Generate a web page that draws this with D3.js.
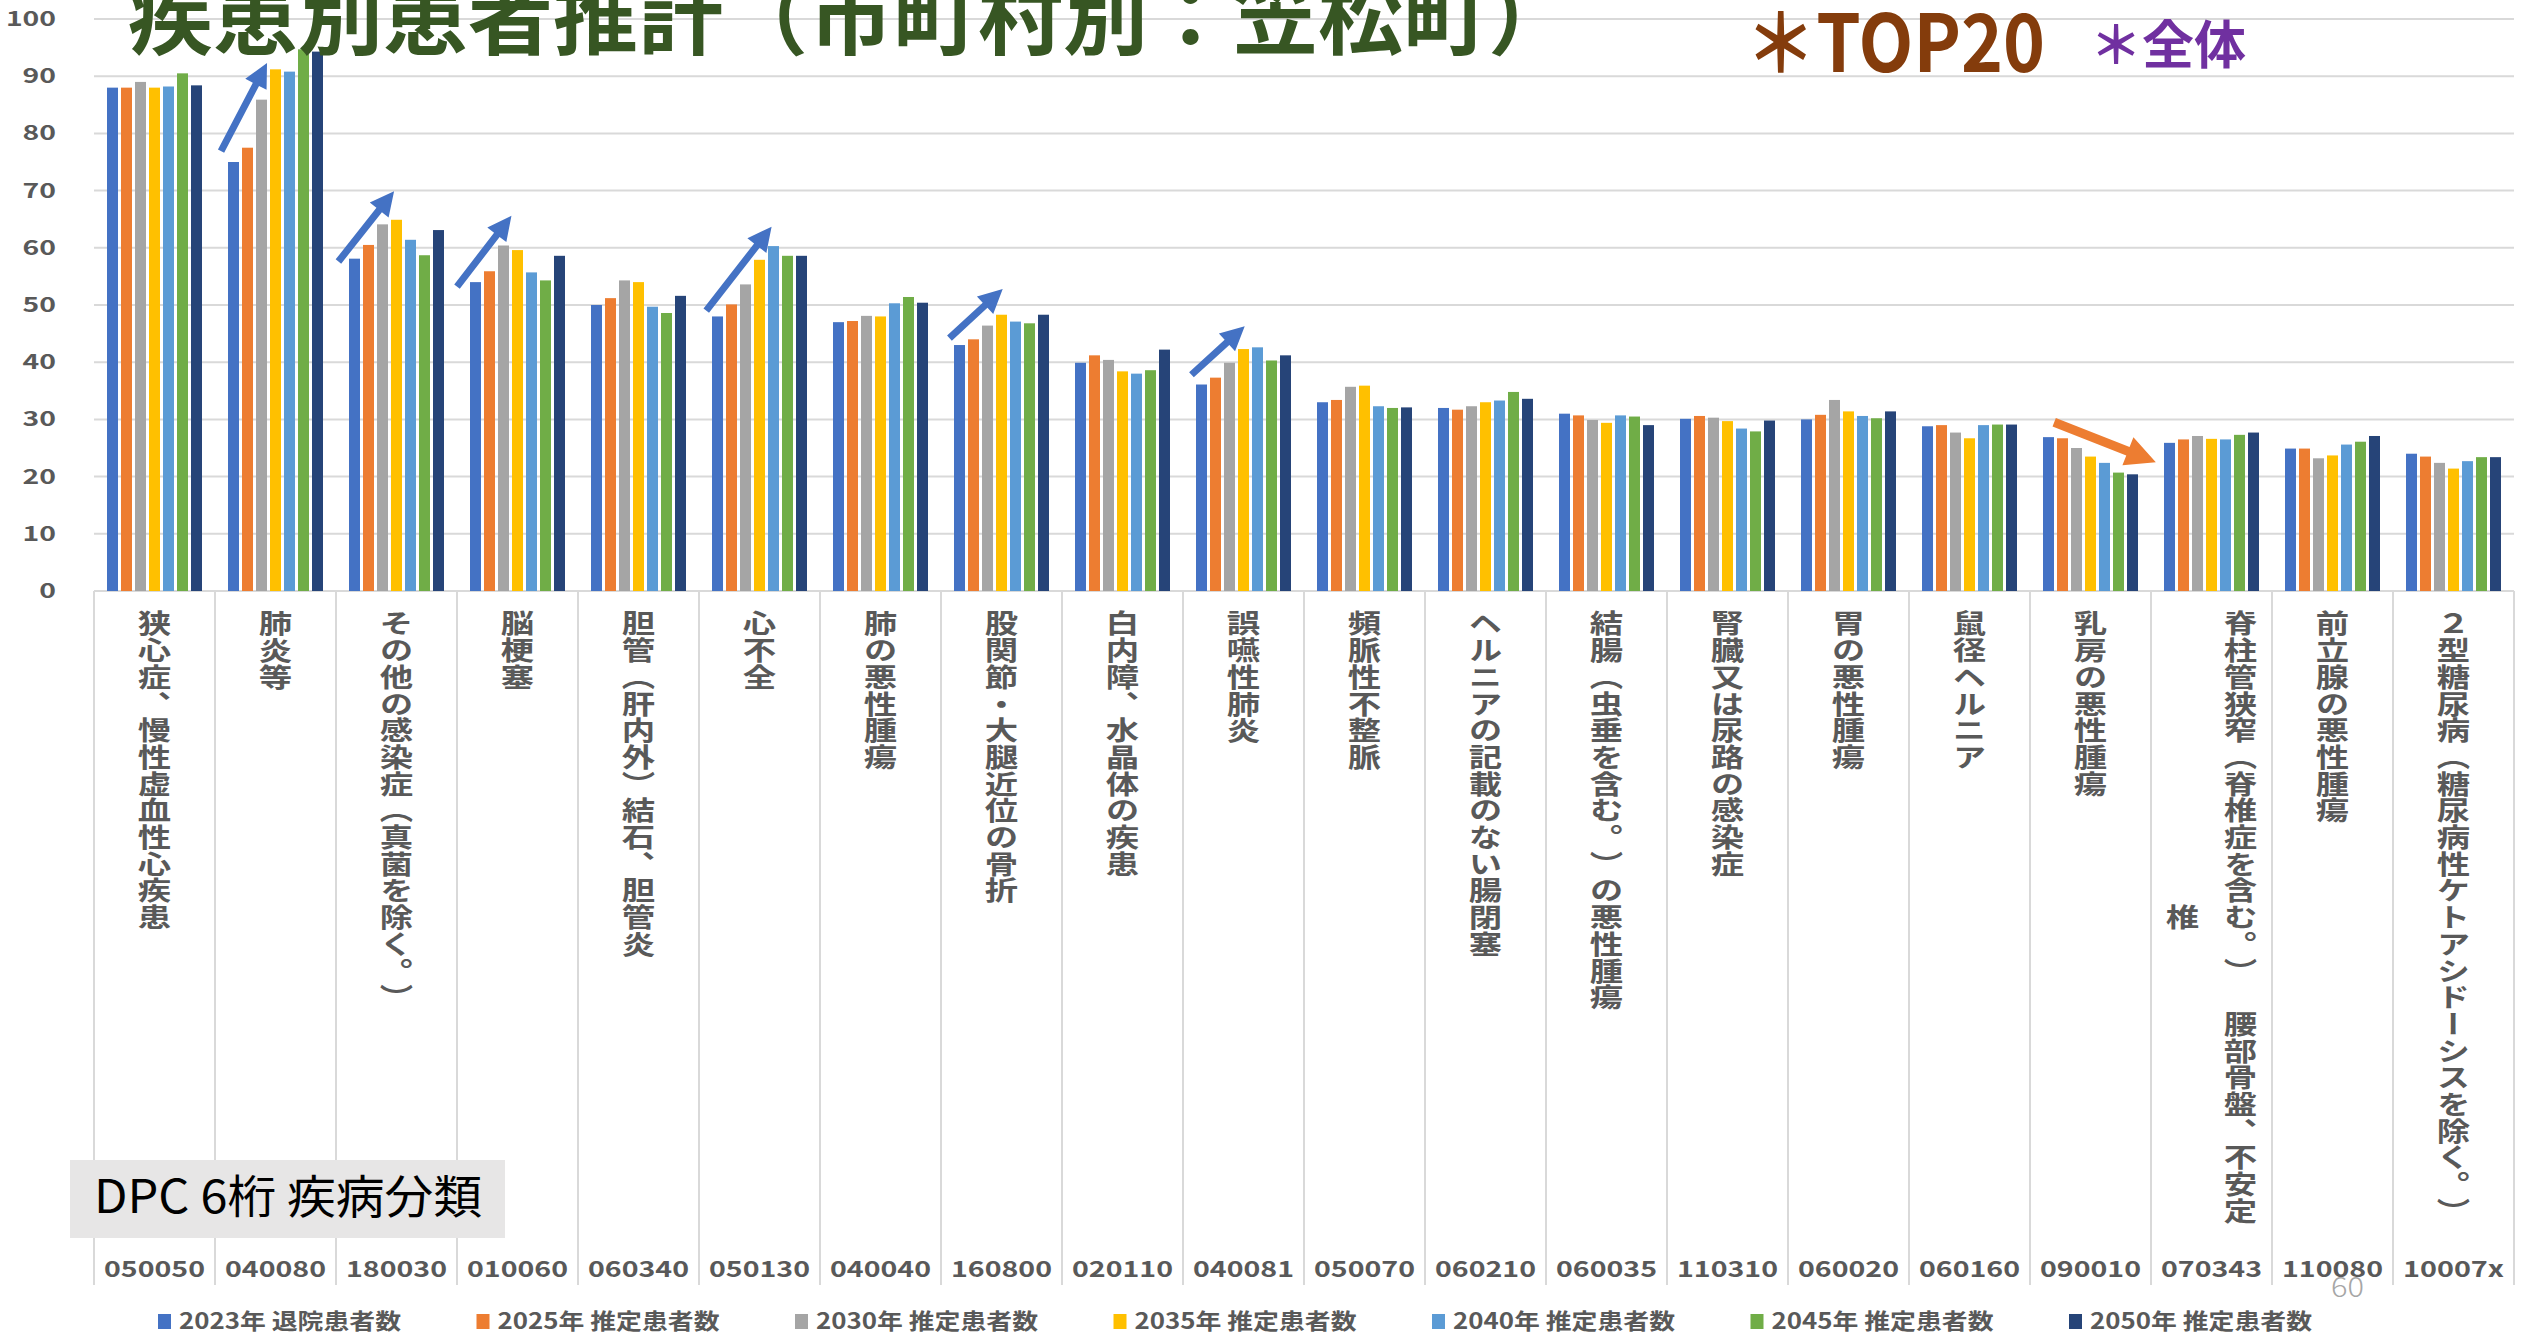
<!DOCTYPE html>
<html>
<head>
<meta charset="utf-8">
<script src="https://cdn.jsdelivr.net/npm/d3@7"></script>
<style>
  html, body { margin: 0; padding: 0; background: #fff; }
  svg { display: block; }
  text { font-family: "Noto Sans CJK JP", "Noto Sans", sans-serif; text-spacing-trim: space-all; }
</style>
</head>
<body>
<svg id="chart" width="2526" height="1334"></svg>
<script>
// ---- data ----
const categoryCodes = ["050050","040080","180030","010060","060340","050130","040040","160800","020110","040081",
                       "050070","060210","060035","110310","060020","060160","090010","070343","110080","10007x"];
const categoryNames = [
  "狭心症、慢性虚血性心疾患",
  "肺炎等",
  "その他の感染症（真菌を除く。）",
  "脳梗塞",
  "胆管（肝内外）結石、胆管炎",
  "心不全",
  "肺の悪性腫瘍",
  "股関節・大腿近位の骨折",
  "白内障、水晶体の疾患",
  "誤嚥性肺炎",
  "頻脈性不整脈",
  "ヘルニアの記載のない腸閉塞",
  "結腸（虫垂を含む。）の悪性腫瘍",
  "腎臓又は尿路の感染症",
  "胃の悪性腫瘍",
  "鼠径ヘルニア",
  "乳房の悪性腫瘍",
  "脊柱管狭窄（脊椎症を含む。）　腰部骨盤、不安定椎",
  "前立腺の悪性腫瘍",
  "２型糖尿病（糖尿病性ケトアシドーシスを除く。）"
];
const seriesNames = ["2023年 退院患者数","2025年 推定患者数","2030年 推定患者数","2035年 推定患者数",
                     "2040年 推定患者数","2045年 推定患者数","2050年 推定患者数"];
const patients2023 = [88.0,75.0,58.1,54.0,50.0,48.0,47.0,43.0,39.9,36.1,33.0,32.0,31.0,30.1,30.0,28.8,26.9,25.9,24.9,24.0];
const patients2025 = [88.0,77.5,60.5,55.9,51.2,50.1,47.2,44.0,41.2,37.3,33.4,31.7,30.7,30.6,30.8,29.0,26.7,26.5,24.9,23.5];
const patients2030 = [89.0,85.9,64.1,60.4,54.3,53.6,48.1,46.4,40.4,39.9,35.7,32.3,29.9,30.3,33.4,27.7,25.0,27.1,23.2,22.4];
const patients2035 = [88.0,91.2,64.9,59.6,54.0,57.9,48.0,48.3,38.4,42.3,35.9,33.0,29.4,29.7,31.4,26.7,23.5,26.6,23.7,21.4];
const patients2040 = [88.2,90.8,61.4,55.7,49.7,60.3,50.3,47.1,38.0,42.6,32.3,33.3,30.7,28.4,30.6,29.0,22.4,26.5,25.6,22.7];
const patients2045 = [90.5,94.7,58.7,54.3,48.6,58.6,51.4,46.8,38.6,40.3,32.0,34.8,30.5,27.9,30.2,29.1,20.7,27.3,26.1,23.4];
const patients2050 = [88.4,94.3,63.1,58.6,51.6,58.6,50.4,48.3,42.2,41.2,32.1,33.6,29.0,29.8,31.4,29.1,20.4,27.7,27.1,23.4];
const yTickValues = [0,10,20,30,40,50,60,70,80,90,100];

// trend annotations: [category, position inside the category (0..1), value]
const trendArrows = [
  { code: "040080", from: [0.05, 76.9], to: [0.43, 92.3], kind: "up" },
  { code: "180030", from: [0.02, 57.6], to: [0.48, 69.9], kind: "up" },
  { code: "010060", from: [0.00, 53.2], to: [0.45, 65.6], kind: "up" },
  { code: "050130", from: [0.06, 49.0], to: [0.60, 63.7], kind: "up" },
  { code: "160800", from: [0.07, 44.2], to: [0.51, 52.8], kind: "up" },
  { code: "040081", from: [0.07, 37.8], to: [0.51, 46.3], kind: "up" },
  { code: "090010", from: [0.20, 29.5], to: [1.04, 22.5], kind: "down" }
];

// ---- styles ----
const seriesColors = ["#4472C4","#ED7D31","#A5A5A5","#FFC000","#5B9BD5","#70AD47","#264478"];
const gridColor = "#D9D9D9";
const axisTextColor = "#595959";
const textStretch = 1.25;

const seriesValues = [patients2023, patients2025, patients2030, patients2035, patients2040, patients2045, patients2050];

const svg = d3.select("#chart");

// ---- scales ----
const plotLeft = 94, plotRight = 2514, plotTop = 19, plotBottom = 591;
const x = d3.scaleBand().domain(categoryCodes).range([plotLeft, plotRight]).padding(0);
const xSeries = d3.scaleBand().domain(d3.range(seriesNames.length)).range([11.5, 109.5]).padding(0);
const y = d3.scaleLinear().domain([0, 100]).range([plotBottom, plotTop]);

// ---- gridlines ----
svg.append("g").selectAll("line").data(yTickValues).join("line")
  .attr("x1", plotLeft).attr("x2", plotRight)
  .attr("y1", d => y(d)).attr("y2", d => y(d))
  .attr("stroke", gridColor).attr("stroke-width", 2);

// category separators (run through both label levels)
const sepX = categoryCodes.map(c => x(c)).concat([x(categoryCodes[categoryCodes.length - 1]) + x.bandwidth()]);
svg.append("g").selectAll("line").data(sepX).join("line")
  .attr("x1", d => d).attr("x2", d => d)
  .attr("y1", plotBottom).attr("y2", 1285)
  .attr("stroke", gridColor).attr("stroke-width", 2);

// ---- y tick labels ----
const tickFont = 20, tickPitch = 16.7, tickRight = 56;
svg.append("g").selectAll("text").data(yTickValues).join("text")
  .attr("x", d => tickRight - String(d).length * tickPitch)
  .attr("y", d => y(d) + 7)
  .attr("font-size", tickFont).attr("font-weight", 700).attr("fill", axisTextColor)
  .attr("textLength", d => String(d).length * tickPitch)
  .attr("lengthAdjust", "spacingAndGlyphs")
  .text(d => d);

// ---- bars ----
const barGap = 3;
const barData = [];
seriesValues.forEach((vals, s) => vals.forEach((v, i) => barData.push({ s, code: categoryCodes[i], v })));
svg.append("g").selectAll("rect").data(barData).join("rect")
  .attr("x", d => x(d.code) + xSeries(d.s) + barGap / 2)
  .attr("width", xSeries.bandwidth() - barGap)
  .attr("y", d => y(d.v))
  .attr("height", d => y(0) - y(d.v))
  .attr("fill", d => seriesColors[d.s]);

// ---- category names (vertical text) ----
const labelFont = 26.7, labelTop = 610, maxChars = 23, colGap = 58 / textStretch;
const labelG = svg.append("g");
categoryNames.forEach((name, i) => {
  const chars = Array.from(name);
  const cols = [];
  for (let k = 0; k < chars.length; k += maxChars) cols.push(chars.slice(k, k + maxChars).join(""));
  const blockLen = d3.max(cols, c => Array.from(c).length) * labelFont;
  const cx = x(categoryCodes[i]) + x.bandwidth() / 2;
  const g = labelG.append("g").attr("transform", `translate(${cx},${labelTop}) scale(${textStretch},1)`);
  cols.forEach((c, j) => {
    const off = ((cols.length - 1) / 2 - j) * colGap;
    const top = (blockLen - Array.from(c).length * labelFont) / 2;
    g.append("text")
      .attr("x", off).attr("y", top)
      .style("writing-mode", "vertical-rl")
      .style("text-spacing-trim", "space-all")
      .attr("font-size", labelFont).attr("font-weight", 700).attr("fill", axisTextColor)
      .text(c);
  });
});

// ---- category codes ----
const codeFont = 22, codeLen = 101;
svg.append("g").selectAll("text").data(categoryCodes).join("text")
  .attr("x", d => x(d) + x.bandwidth() / 2 - codeLen / 2)
  .attr("y", 1277)
  .attr("font-size", codeFont).attr("font-weight", 700).attr("fill", axisTextColor)
  .attr("textLength", codeLen).attr("lengthAdjust", "spacingAndGlyphs")
  .text(d => d);

// ---- trend arrows ----
function arrowPath(x0, y0, x1, y1, w, L, h) {
  const dx = x1 - x0, dy = y1 - y0, len = Math.hypot(dx, dy);
  const ux = dx / len, uy = dy / len, px = -uy, py = ux;
  const bx = x1 - ux * L, by = y1 - uy * L;
  const pts = [
    [x0 + px * w / 2, y0 + py * w / 2],
    [bx + px * w / 2, by + py * w / 2],
    [bx + px * h, by + py * h],
    [x1, y1],
    [bx - px * h, by - py * h],
    [bx - px * w / 2, by - py * w / 2],
    [x0 - px * w / 2, y0 - py * w / 2]
  ];
  return "M" + pts.map(p => p.join(",")).join("L") + "Z";
}
const arrowColor = { up: "#4472C4", down: "#ED7D31" };
svg.append("g").selectAll("path").data(trendArrows).join("path")
  .attr("d", d => {
    const x0 = x(d.code) + d.from[0] * x.bandwidth(), y0 = y(d.from[1]);
    const x1 = x(d.code) + d.to[0] * x.bandwidth(), y1 = y(d.to[1]);
    return d.kind === "down" ? arrowPath(x0, y0, x1, y1, 9, 30, 15) : arrowPath(x0, y0, x1, y1, 7, 24, 12);
  })
  .attr("fill", d => arrowColor[d.kind]);

// ---- headings ----
svg.append("text")
  .attr("x", 128).attr("y", 48)
  .attr("font-size", 85).attr("font-weight", 700).attr("fill", "#375623")
  .text("疾患別患者推計（市町村別：笠松町）");

svg.append("text")
  .attr("x", 1745).attr("y", 72)
  .attr("font-size", 80).attr("font-weight", 700).attr("fill", "#843C0C")
  .attr("textLength", 300).attr("lengthAdjust", "spacingAndGlyphs")
  .text("＊TOP20");

svg.append("text")
  .attr("x", 2090).attr("y", 64)
  .attr("font-size", 52).attr("font-weight", 700).attr("fill", "#7030A0")
  .text("＊全体");

// ---- DPC label box ----
svg.append("rect")
  .attr("x", 70).attr("y", 1160).attr("width", 435).attr("height", 78)
  .attr("fill", "#E7E6E6");
svg.append("text")
  .attr("x", 94).attr("y", 1213)
  .attr("font-size", 46).attr("font-weight", 400).attr("fill", "#000")
  .attr("textLength", 388).attr("lengthAdjust", "spacingAndGlyphs")
  .text("DPC 6桁 疾病分類");

// ---- legend ----
const legendX = d3.scaleLinear().domain([0, 1]).range([158, 476.5]);
const legend = svg.append("g").selectAll("g").data(seriesNames).join("g")
  .attr("transform", (d, i) => `translate(${legendX(i)},1314)`);
legend.append("rect").attr("width", 13).attr("height", 15).attr("fill", (d, i) => seriesColors[i]);
legend.append("text")
  .attr("x", 21).attr("y", 15)
  .attr("font-size", 22).attr("font-weight", 700).attr("fill", axisTextColor)
  .attr("textLength", 222).attr("lengthAdjust", "spacingAndGlyphs")
  .text(d => d);

// ---- page number ----
svg.append("text")
  .attr("x", 2331).attr("y", 1297)
  .attr("font-size", 28).attr("font-weight", 300).attr("fill", "#A6A6A6")
  .attr("textLength", 33).attr("lengthAdjust", "spacingAndGlyphs")
  .text("60");
</script>
</body>
</html>
